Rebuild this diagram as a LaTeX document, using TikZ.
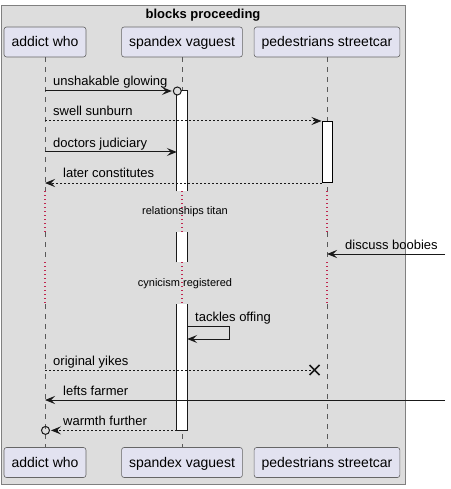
\documentclass[tikz,border=0pt]{standalone}
\usepackage{fontspec}
\setmainfont{Liberation Sans}
\usepackage{tikz}
\usetikzlibrary{arrows.meta,calc}
\definecolor{boxbg}{HTML}{DDDDDD}
\definecolor{partbg}{HTML}{E2E2F0}
\definecolor{delayred}{HTML}{C0264F}

\begin{document}
\begin{tikzpicture}[x=1pt, y=-1pt,
        part/.style={draw=black!60, line width=0.6pt, fill=partbg, rounded corners=2.5pt, minimum height=30pt, inner xsep=7.5pt, text height=10pt, text depth=0pt, font=\fontsize{14}{16}\selectfont},
        life/.style={black!65, line width=0.6pt, dash pattern=on 5pt off 5pt},
        delayline/.style={delayred, line width=1.1pt, dash pattern=on 1.1pt off 2.9pt},
        act/.style={fill=white, minimum width=10pt, inner sep=0pt, anchor=north},
        actline/.style={line width=1pt, black!90},
        msg/.style={line width=1pt, black!90, -{Stealth[length=10pt, width=8pt, inset=4pt]}},
        reply/.style={msg, dash pattern=on 2pt off 2pt},
        lbl/.style={anchor=base west, inner sep=0pt, font=\fontsize{13}{15}\selectfont},
        delaylbl/.style={inner sep=0pt, font=\fontsize{11}{13}\selectfont}]
        \useasboundingbox (0, 0) rectangle (450, 489);
        \draw [gray, line width=1pt, fill=boxbg] (1.5, 6) rectangle (405, 484);
        \node [inner sep=0pt, font=\bfseries\fontsize{13}{15}\selectfont] (title) at (203, 15) {blocks proceeding};
        \node [part] (aT) at (45, 42) {addict who};
        \node [part] (sT) at (182, 42) {spandex vaguest};
        \node [part] (pT) at (327, 42) {pedestrians streetcar};
        \node [part] (aB) at (45, 462.5) {addict who};
        \node [part] (sB) at (182, 462.5) {spandex vaguest};
        \node [part] (pB) at (327, 462.5) {pedestrians streetcar};
        \coordinate (y1) at (0, 191);
        \coordinate (y2) at (0, 232);
        \coordinate (y3) at (0, 262);
        \coordinate (y4) at (0, 304);
        \foreach \p in {a, s, p}{
            \draw [life] (\p T.south) -- (\p T.south |- y1);
            \draw [delayline] (\p T.south |- y1) -- (\p T.south |- y2);
            \draw [life] (\p T.south |- y2) -- (\p T.south |- y3);
            \draw [delayline] (\p T.south |- y3) -- (\p T.south |- y4);
            \draw [life] (\p T.south |- y4) -- (\p B.north);
        }
        \node [delaylbl] (delay1) at (185, 212) {relationships titan};
        \node [delaylbl] (delay2) at (185, 284) {cynicism registered};
        \node [act, minimum height=100pt] (act1) at (182, 91) {};
        \node [act, minimum height=30pt] (act2) at (182, 232) {};
        \node [act, minimum height=126pt] (act3) at (182, 304) {};
        \node [act, minimum height=61pt, draw, line width=1pt] (actP) at (327, 121) {};
        \draw [actline] (act1.south west) -- (act1.north west) -- (act1.north east) -- (act1.south east);
        \draw [actline] (act2.south west) -- (act2.north west) (act2.north east) -- (act2.south east);
        \draw [actline] (act3.north west) -- (act3.south west) -- (act3.south east) -- (act3.north east);
        \coordinate (r3) at (0, 152);
        \coordinate (r5) at (0, 254);
        \coordinate (r6) at (0, 326);
        \coordinate (r7) at (0, 339);
        \coordinate (r8) at (0, 370);
        \coordinate (r9) at (0, 400);
        \coordinate (edgeA) at (445, 254);
        \coordinate (edgeB) at (445, 400);
        \coordinate (xmark) at (314.5, 370);
        \draw [msg] (aT |- act1.north) -- ([xshift=-5pt]act1.north west);
        \draw [line width=1pt, black!90, fill=boxbg] ([xshift=0.5pt]act1.north west) circle (4pt);
        \draw [reply] (aT |- actP.north) -- (actP.north west);
        \draw [msg] (aT |- r3) -- (act1.west |- r3);
        \draw [reply] (actP.south west) -- (aT |- actP.south);
        \draw [msg] (edgeA) -- (pT |- r5);
        \draw [msg] (act3.east |- r6) -- ++(42, 0) -- ++(0, 13) -- (act3.east |- r7);
        \draw [reply, -] (aT |- r8) -- (xmark);
        \draw [line width=1.5pt, black!90] (xmark) +(-5, -5) -- +(5, 5) +(-5, 5) -- +(5, -5);
        \draw [msg] (edgeB) -- (aT |- r9);
        \draw [reply] (act3.south west) -- ($(aT |- act3.south) + (6, 0)$);
        \draw [line width=1pt, black!90] ($(aT |- act3.south) + (0.5, 0)$) circle (4pt);
        \node [lbl] (l1) at (53, 86) {unshakable glowing};
        \node [lbl] (l2) at (53, 116) {swell sunburn};
        \node [lbl] (l3) at (53, 147) {doctors judiciary};
        \node [lbl] (l4) at (63, 177) {later constitutes};
        \node [lbl] (l5) at (345, 249) {discuss boobies};
        \node [lbl] (l6) at (195, 321) {tackles offing};
        \node [lbl] (l7) at (53, 365) {original yikes};
        \node [lbl] (l8) at (63, 395) {lefts farmer};
        \node [lbl] (l9) at (63, 425) {warmth further};
\end{tikzpicture}
\end{document}
